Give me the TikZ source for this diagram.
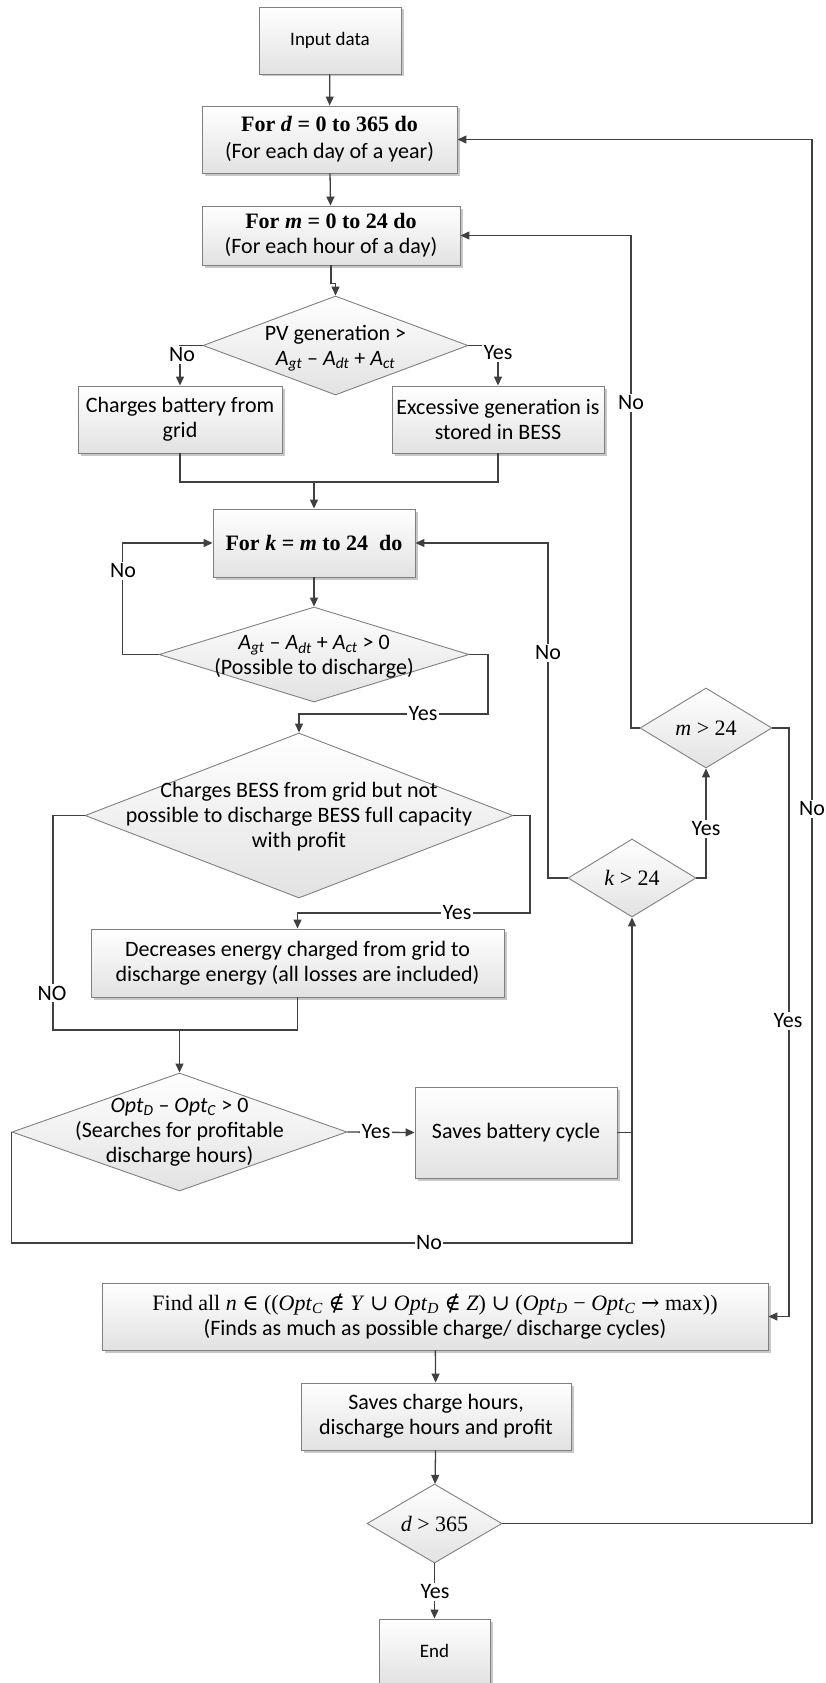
\documentclass[tikz,border=0pt]{standalone}
\usepackage{fontspec}
\setmainfont{Carlito}
\newfontfamily\tnr{Liberation Serif}
\newfontfamily\symf{DejaVu Serif}
\usetikzlibrary{shapes.geometric,arrows.meta,shadows,calc}
\definecolor{linec}{HTML}{404040}
\definecolor{boxc}{HTML}{808080}
\definecolor{fillc}{HTML}{E2E2E2}
\newcommand\mainsz{\fontsize{22}{25}\selectfont}
\newcommand\smallsz{\fontsize{19}{22}\selectfont}
\tikzset{
  box/.style={rectangle, draw=boxc, line width=0.9pt, top color=white, bottom color=fillc,
    inner sep=0pt, align=center, font=\mainsz,
    drop shadow={shadow xshift=2.5pt, shadow yshift=-2.5pt, fill=black!22, opacity=1}},
  dia/.style={diamond, draw=boxc, line width=0.9pt, top color=white, bottom color=fillc, inner sep=0pt},
  ln/.style={draw=linec, line width=1.3pt},
  arr/.style={ln, -{Triangle[length=9pt,width=8pt]}},
  lbl/.style={fill=white, inner sep=1.5pt, font=\mainsz},
  txt/.style={align=center, font=\mainsz, inner sep=0pt},
}
\begin{document}
\begin{tikzpicture}[x=1pt,y=-1pt]
\useasboundingbox (0,0) rectangle (826,1683);
\fill[white] (0,0) rectangle (826,1683);
% ---------- nodes ----------
\node[box, minimum width=142pt, minimum height=67pt, font=\smallsz] (inp) at (330,40.5) {Input data};
\node[box, minimum width=255pt, minimum height=67pt] (ford) at (329.5,139.5)
  {{\tnr\bfseries For \textit{d} = 0 to 365 do}\\[2pt](For each day of a year)};
\node[box, minimum width=258pt, minimum height=59pt] (form) at (331,235.5)
  {{\tnr\bfseries For \textit{m} = 0 to 24 do}\\[0pt](For each hour of a day)};
\node[dia, minimum width=265pt, minimum height=99pt] (pv) at (335.5,345.5) {};
\node[txt] (pvT) at (335.5,348) {PV generation >\\\textit{A}\textsubscript{\textit{gt}} – \textit{A}\textsubscript{\textit{dt}} + \textit{A}\textsubscript{\textit{ct}}};
\node[box, minimum width=204pt, minimum height=67pt] (chg) at (180,419.5) {Charges battery from\\grid};
\node[box, minimum width=212pt, minimum height=67pt] (exc) at (498,419.5) {Excessive generation is\\stored in BESS};
\node[box, minimum width=202pt, minimum height=68pt] (fork) at (314,543)
  {{\tnr\bfseries For \textit{k} = \textit{m} to 24~~do}};
\node[dia, minimum width=310pt, minimum height=95pt] (pos) at (314,654.5) {};
\node[txt] (posT) at (314,657) {\textit{A}\textsubscript{\textit{gt}} – \textit{A}\textsubscript{\textit{dt}} + \textit{A}\textsubscript{\textit{ct}} > 0\\(Possible to discharge)};
\node[dia, minimum width=428pt, minimum height=165pt] (bess) at (299,815.5) {};
\node[txt] (bessT) at (299,817) {Charges BESS from grid but not\\possible to discharge BESS full capacity\\with profit};
\node[box, minimum width=413pt, minimum height=68pt] (dec) at (297.5,963)
  {Decreases energy charged from grid to\\discharge energy (all losses are included)};
\node[dia, minimum width=335pt, minimum height=118pt] (opt) at (179.5,1132) {};
\node[txt] (optT) at (179.5,1132) {\textit{Opt}\textsubscript{\textit{D}} – \textit{Opt}\textsubscript{\textit{C}} > 0\\(Searches for profitable\\discharge hours)};
\node[box, minimum width=202pt, minimum height=91pt] (sbc) at (516,1132.5) {Saves battery cycle};
\node[dia, minimum width=128pt, minimum height=78pt] (kgt) at (632,878) {};
\node[txt] (kgtT) at (632,878) {\tnr\textit{k} > 24};
\node[dia, minimum width=132pt, minimum height=80pt] (mgt) at (706,728) {};
\node[txt] (mgtT) at (706,728) {\tnr\textit{m} > 24};
\node[box, minimum width=666pt, minimum height=67pt] (find) at (435,1316.5)
  {{\tnr Find all \textit{n} {\symf∈} ((\textit{Opt}\textsubscript{\textit{C}} {\symf∉} \textit{Y} {\symf∪} \textit{Opt}\textsubscript{\textit{D}} {\symf∉} \textit{Z}) {\symf∪} (\textit{Opt}\textsubscript{\textit{D}} − \textit{Opt}\textsubscript{\textit{C}} {\symf→} max))}\\(Finds as much as possible charge/ discharge cycles)};
\node[box, minimum width=270pt, minimum height=67pt] (sch) at (436,1416.5) {Saves charge hours,\\discharge hours and profit};
\node[dia, minimum width=135pt, minimum height=79pt] (dgt) at (434.5,1523.5) {};
\node[txt] (dgtT) at (434.5,1523.5) {\tnr\textit{d} > 365};
\node[box, minimum width=111pt, minimum height=64pt, font=\smallsz] (end) at (434.5,1651) {End};
% ---------- coordinates ----------
\coordinate (mrg) at (314,482);
\coordinate (c1) at (488,714);
\coordinate (c2) at (530,913);
\coordinate (c3) at (53,1030);
\coordinate (j2) at (179.5,1030);
\coordinate (c5) at (632,1243);
\coordinate (c6) at (548,878);
\coordinate (c7) at (631,728);
\coordinate (c8) at (789,1316.5);
\coordinate (c9) at (812,1523.5);
% ---------- connectors ----------
\draw[arr] (inp) -- (ford);
\draw[arr] (ford) -- (form);
\draw[arr] (form.south) -- ++(0,18) -| (pv.north);
\draw[arr] (pv.west) -| (chg.north);
\draw[arr] (pv.east) -| (exc.north);
\draw[ln] (chg.south) |- (mrg);
\draw[ln] (exc.south) |- (mrg);
\draw[arr] (mrg) -- (fork.north);
\draw[arr] (fork) -- (pos);
\draw[arr] (pos.west) -- ++(-36,0) |- (fork.west);
\draw[arr] (pos.east) -| (c1) -| (bess.north);
\draw[arr] (bess.east) -| (c2) -| (dec.north);
\draw[ln] (bess.west) -| (c3) -- (j2);
\draw[ln] (dec.south) |- (j2);
\draw[arr] (j2) -- (opt.north);
\draw[arr] (opt.east) -- (sbc.west);
\draw[ln] (sbc.east) -- (sbc.east -| c5);
\draw[arr] (opt.west) |- (c5) -- (kgt.south);
\draw[arr] (kgt.west) -- (c6) |- (fork.east);
\draw[arr] (kgt.east) -| (mgt.south);
\draw[arr] (mgt.west) -- (c7) |- (form.east);
\draw[arr] (mgt.east) -| (c8) -- (find.east);
\draw[arr] (find) -- (sch);
\draw[arr] (sch) -- (dgt);
\draw[arr] (dgt.east) -- (c9) |- (ford.east);
\draw[arr] (dgt) -- (end);
% ---------- labels ----------
\node[lbl] at (182,355) {No};
\node[lbl] at (498,353) {Yes};
\node[lbl] at (123,571) {No};
\node[lbl] at (423,714) {Yes};
\node[lbl] at (457,913) {Yes};
\node[lbl] at (52,993) {NO};
\node[lbl] at (376,1132) {Yes};
\node[lbl] at (429,1243) {No};
\node[lbl] at (548,653) {No};
\node[lbl] at (706,829) {Yes};
\node[lbl] at (631,403) {No};
\node[lbl] at (788,1021) {Yes};
\node[lbl] at (812,809) {No};
\node[lbl] at (435,1592) {Yes};
\end{tikzpicture}
\end{document}
